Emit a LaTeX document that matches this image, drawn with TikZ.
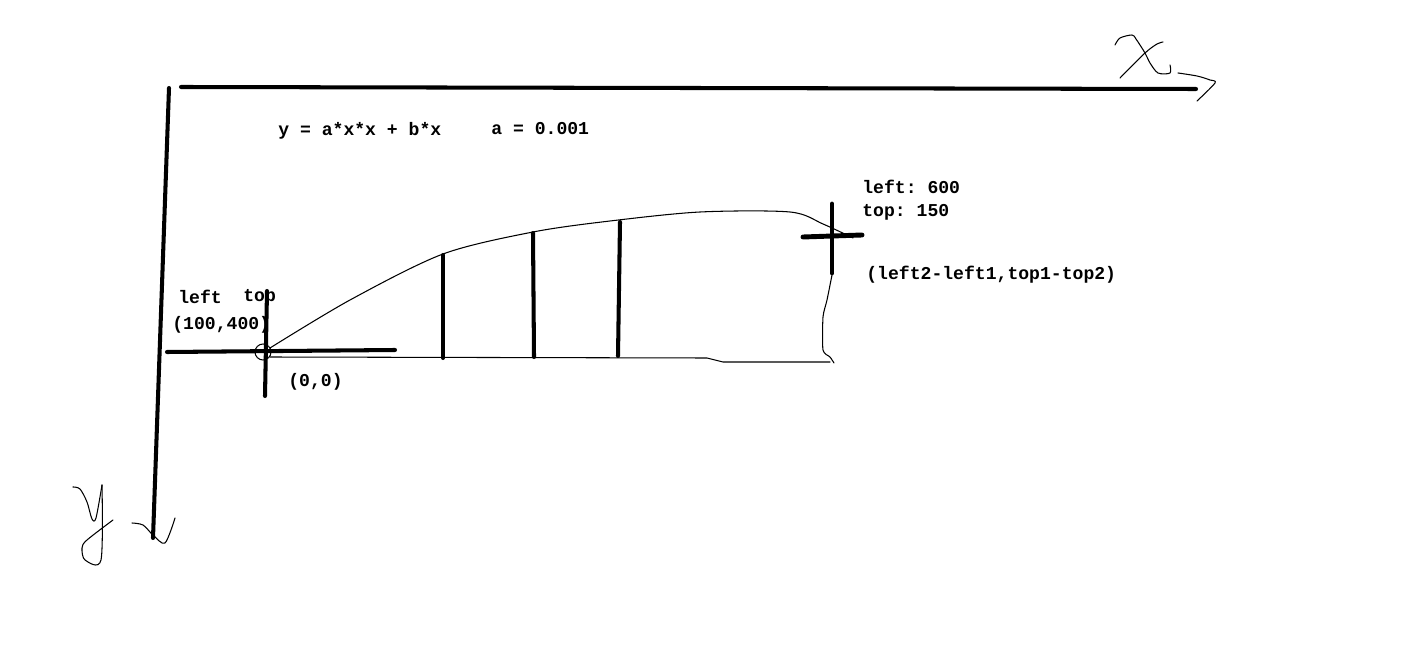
\documentclass[tikz,border=0pt]{standalone}
\usepackage{fontspec}
\setmonofont{Liberation Mono}
\usetikzlibrary{calc}
\definecolor{cink}{HTML}{000000}

\begin{document}
\begin{tikzpicture}[x=0.02cm, y=-0.02cm, line cap=round, line join=round,
  heavy/.style={cink, line width=2.3pt},
  pen/.style={cink, line width=0.6pt},
  lbl/.style={anchor=west, inner sep=0pt, font=\ttfamily\bfseries\fontsize{10.3}{12}\selectfont}]
  \useasboundingbox (0,0) rectangle (1426,665);
  % axes
  \draw[heavy] (181,87) -- (1196,89);
  \draw[heavy] (169,88) -- (153,538);
  % hand-drawn axis letters and arrow heads
  \draw[pen] plot[smooth, tension=0.5] coordinates {(1115,45) (1120,38) (1132,35) (1136,39) (1145,53) (1150,63) (1158,73) (1170,73) (1170,65)};
  \draw[pen] plot[smooth, tension=0.5] coordinates {(1163,42) (1157,44) (1145,53) (1120,78)};
  \draw[pen] plot[smooth, tension=0.5] coordinates {(1178,73) (1197,76) (1210,80) (1215,83) (1197,101)};
  \draw[pen] plot[smooth, tension=0.5] coordinates {(73,487) (80,489) (87,502) (92,519) (96,518) (102,485)};
  \draw[pen] plot[smooth, tension=0.5] coordinates {(102,485) (101,560) (85,560) (82,548) (87,540) (113,520)};
  \draw[pen] plot[smooth, tension=0.5] coordinates {(132,523) (143,525) (153,535) (165,543) (175,518)};
  % region under the curve
  \draw[pen] plot[smooth, tension=0.5] coordinates {(270,348) (350,300) (443,254) (533,232) (610,221) (700,212) (790,212) (823,224) (853,238)};
  \draw[pen] (270,357) -- (707,358) -- (723,362) -- (830,362);
  \draw[pen] plot[smooth, tension=0.4] coordinates {(832,275) (827,300) (823,317) (823,350) (830,357) (834,363)};
  % strips
  \draw[heavy] (443,255) -- (443,358);
  \draw[heavy] (533,233) -- (534,357);
  \draw[heavy] (620,222) -- (618,356);
  % start cross
  \draw[heavy] (167,352) -- (395,350);
  \draw[heavy] (267,291) -- (265,396);
  \draw[pen] (263,352) circle (8);
  % end cross
  \draw[heavy, line width=2.8pt] (832,204) -- (832,273);
  \draw[heavy, line width=2.8pt] (803,237) -- (862,235);
  % labels
  \node[lbl] (eq) at (278,131) {y = a*x*x + b*x};
  \node[lbl] (coef) at (491,129) {a = 0.001};
  \node[lbl] (endl) at (862,187) {left: 600};
  \node[lbl] (endt) at (862,212) {top: 150};
  \node[lbl] (diff) at (866,275) {(left2-left1,top1-top2)};
  \node[lbl] (startl) at (178,297) {left};
  \node[lbl] (startt) at (243,297) {top};
  \node[lbl] (startxy) at (172,325) {(100,400)};
  \node[lbl] (origin) at (288,382) {(0,0)};
\end{tikzpicture}
\end{document}
